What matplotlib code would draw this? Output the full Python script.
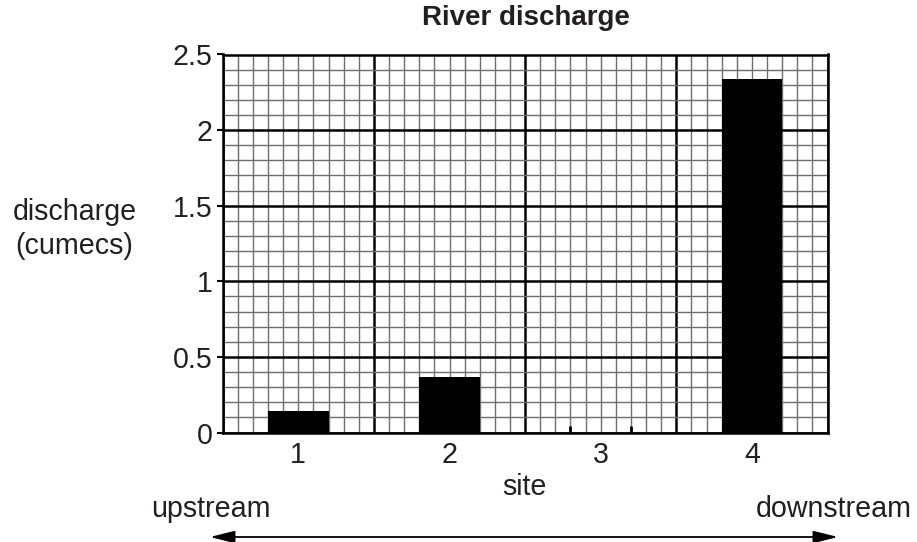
import numpy as np
import matplotlib
matplotlib.use('Agg')
from matplotlib import pyplot as plt
from matplotlib.ticker import MultipleLocator
from matplotlib.patches import FancyArrowPatch
from matplotlib.transforms import blended_transform_factory

plt.rcParams['font.family'] = ['Liberation Sans', 'DejaVu Sans']
plt.rcParams['text.color'] = '#231f20'
plt.rcParams['ytick.labelcolor'] = '#231f20'

sites = [1, 2, 3, 4]
discharge = [0.145, 0.365, 0.0, 2.34]
yticks = [0, 0.5, 1, 1.5, 2, 2.5]
ytick_labels = ['0', '0.5', '1', '1.5', '2', '2.5']
bar_w = 0.4

W, H = 917, 542
fs = 20.6

fig = plt.figure(figsize=(W / 100, H / 100), dpi=100)
ax = fig.add_axes([222.7 / W, 1 - 432.5 / H, (827.5 - 222.7) / W, (432.5 - 54.5) / H])

ax.set_xlim(0.5, 4.5)
ax.set_ylim(0, 2.5)

# graph-paper grid: minor every 0.1, major at site boundaries / every 0.5
ax.set_xticks(np.arange(0.5, 4.6, 1.0))
ax.xaxis.set_minor_locator(MultipleLocator(0.1))
ax.yaxis.set_minor_locator(MultipleLocator(0.1))
ax.set_yticks(yticks)
ax.set_yticklabels(ytick_labels)
ax.grid(which='minor', color='#6e6e6e', linewidth=1.0)
ax.grid(which='major', color='black', linewidth=1.8)
ax.set_axisbelow(True)
ax.tick_params(which='minor', length=0)
ax.tick_params(axis='x', which='major', length=0, labelbottom=False)
ax.tick_params(axis='y', which='major', length=4, width=1.5, pad=3.5, labelsize=fs)

for s in ax.spines.values():
    s.set_linewidth(1.8)

ax.bar(sites, discharge, width=bar_w, color='black', zorder=3)
# zero-height bar at site 3 shown only by its edges
for s, v in zip(sites, discharge):
    if v == 0:
        ax.vlines([s - bar_w / 2, s + bar_w / 2], 0, 0.046, color='black', linewidth=2, zorder=3)

# site numbers under the axis
trans = blended_transform_factory(ax.transData, fig.transFigure)
for s in sites:
    ax.text(s, 1 - 463 / H, str(s), ha='center', va='baseline', fontsize=fs, transform=trans)

fig.text(526 / W, 1 - 25 / H, 'River discharge', ha='center', va='baseline', fontsize=20, fontweight='bold')
fig.text(75 / W, 1 - 220 / H, 'discharge', ha='center', va='baseline', fontsize=fs)
fig.text(74 / W, 1 - 254 / H, '(cumecs)', ha='center', va='baseline', fontsize=fs)
fig.text(524.5 / W, 1 - 495 / H, 'site', ha='center', va='baseline', fontsize=fs)
fig.text(211 / W, 1 - 517 / H, 'upstream', ha='center', va='baseline', fontsize=fs)
fig.text(834 / W, 1 - 517 / H, 'downstream', ha='center', va='baseline', fontsize=fs)
fig.add_artist(FancyArrowPatch((210 / W, 1 - 537 / H), (838 / W, 1 - 537 / H),
    transform=fig.transFigure, arrowstyle='<|-|>,head_length=1.0,head_width=0.25',
    mutation_scale=15, color='black', linewidth=1.3, shrinkA=0, shrinkB=0))

fig.savefig('out.png', dpi=100)
